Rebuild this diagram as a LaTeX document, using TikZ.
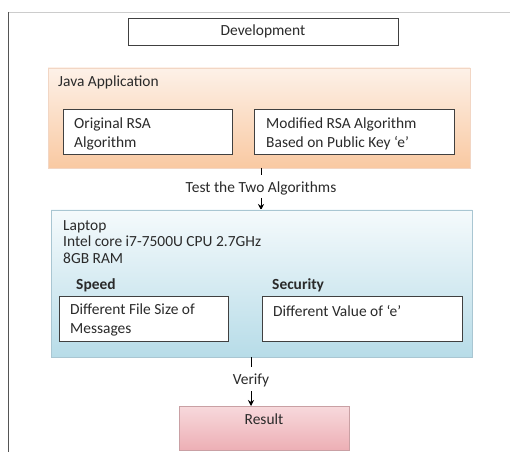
\documentclass[tikz,border=0pt]{standalone}
\usepackage{fontspec}
\setmainfont{Carlito}
\usetikzlibrary{arrows.meta,calc}
\definecolor{framegray}{HTML}{555555}
\definecolor{boxline}{HTML}{404040}
\definecolor{orangetop}{HTML}{FDF1E8}
\definecolor{orangebot}{HTML}{F9C9A2}
\definecolor{orangeline}{HTML}{F2D6C4}
\definecolor{bluetop}{HTML}{F5FAFC}
\definecolor{bluebot}{HTML}{B7DCE8}
\definecolor{blueline}{HTML}{A9C6D2}
\definecolor{pinktop}{HTML}{F7D9DC}
\definecolor{pinkbot}{HTML}{EDAFB5}
\definecolor{pinkline}{HTML}{C9A0A4}
\definecolor{textgray}{HTML}{2A2A2A}
\tikzset{
  txt/.style={font=\fontsize{15.5}{19}\selectfont, text=textgray, inner sep=0pt},
  lefttxt/.style={txt, anchor=west, align=left},
  whitebox/.style={draw=boxline, line width=0.8pt, fill=white},
  conn/.style={draw=black, line width=0.6pt},
  arr/.style={conn, -{Stealth[length=6pt,width=6pt]}},
}
\begin{document}
\begin{tikzpicture}[x=1bp,y=-1bp]
\useasboundingbox (0,0) rectangle (510,452);
\fill[white] (0,0) rectangle (510,452);
% outer frame
\draw[gray!40, line width=0.6pt] (8,12) -- (510,12);
\draw[framegray, line width=1pt] (8,12) -- (8,452);
% development
\node[whitebox, minimum width=270bp, minimum height=27bp, txt] (dev) at (263,31.5) {Development};
% java application
\shade[top color=orangetop, bottom color=orangebot, draw=orangeline] (48,68) rectangle (470,168);
\coordinate (javaS) at (261,168);
\node[lefttxt] (javaT) at (58,82) {Java Application};
\draw[whitebox] (63,109) rectangle (232,154);
\node[lefttxt] (orig) at (74,134) {Original RSA\\Algorithm};
\draw[whitebox] (254,109) rectangle (454,154);
\node[lefttxt] (mod) at (266,134) {Modified RSA Algorithm\\Based on Public Key ‘e’};
% test
\node[txt] (test) at (261,188) {Test the Two Algorithms};
\coordinate (lapN) at (261,210);
\draw[conn] (javaS) -- ++(0,7);
\draw[arr] (261,198) -- (lapN);
% laptop
\shade[top color=bluetop, bottom color=bluebot, draw=blueline] (51,210) rectangle (472,357);
\node[lefttxt, font=\fontsize{15.5}{16.3}\selectfont] (lap) at (63,242) {Laptop\\Intel core i7-7500U CPU 2.7GHz\\8GB RAM};
\node[lefttxt, font=\fontsize{15.5}{19}\selectfont\bfseries] (speed) at (76,285) {Speed};
\node[lefttxt, font=\fontsize{15.5}{19}\selectfont\bfseries] (sec) at (272,285) {Security};
\draw[whitebox] (59,296) rectangle (228,341);
\node[lefttxt] (spd) at (70,320) {Different File Size of\\Messages};
\draw[whitebox] (262,296) rectangle (462,341);
\node[lefttxt] (scd) at (273,311) {Different Value of ‘e’};
% verify
\node[txt] (ver) at (251,380) {Verify};
\draw[conn] (251,357) -- (251,367);
% result
\shade[top color=pinktop, bottom color=pinkbot, draw=pinkline] (179,406) rectangle (349,450);
\node[txt] (res) at (264,419) {Result};
\draw[arr] (251,391) -- (251,406);
\end{tikzpicture}
\end{document}
